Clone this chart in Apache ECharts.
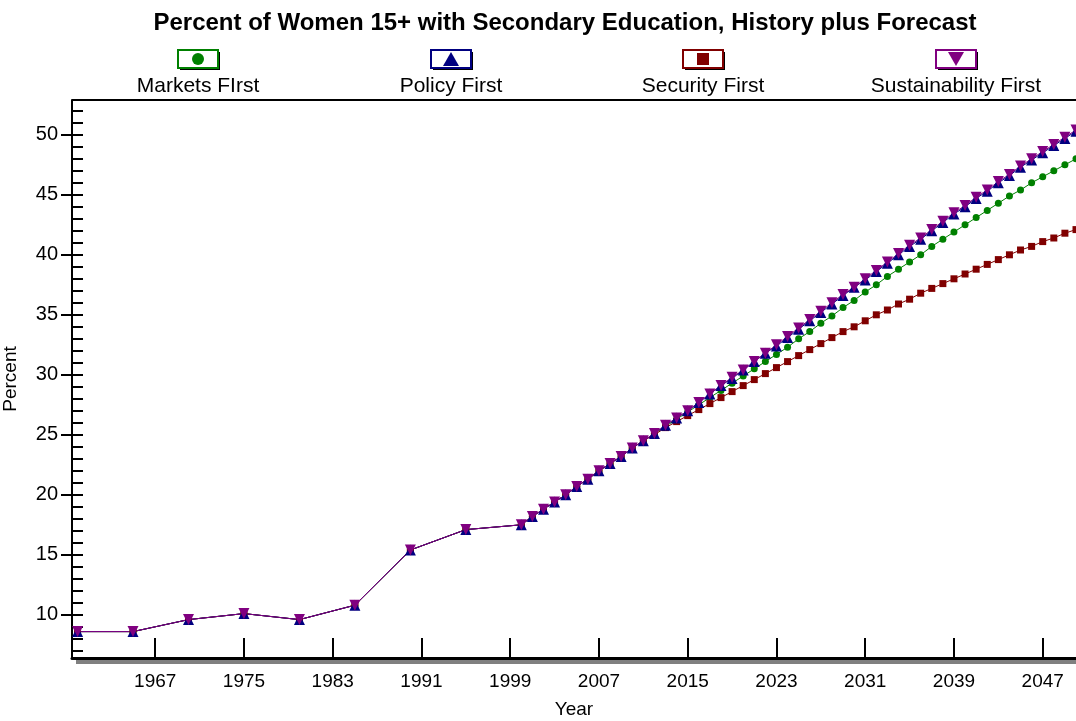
<!DOCTYPE html>
<html><head><meta charset="utf-8">
<script src="https://cdn.jsdelivr.net/npm/echarts@6/dist/echarts.min.js"></script>
<style>html,body{margin:0;background:#fff}#c{width:1076px;height:721px}</style>
</head><body><div id="c"></div>
<script>
// history points then annual forecast
const histYears = [1960, 1965, 1970, 1975, 1980, 1985, 1990, 1995, 2000];
const histVals = [8.6, 8.6, 9.6, 10.1, 9.6, 10.8, 15.4, 17.1, 17.5];
const foreYears = [];
for (let y = 2001; y <= 2050; y++) foreYears.push(y);

const markets = [18.2,18.8,19.4,20.0,20.7,21.3,22.0,22.6,23.2,23.9,24.5,25.1,25.7,26.3,26.9,27.5,28.1,28.7,29.3,29.9,30.5,31.1,31.7,32.3,33.0,33.6,34.3,34.9,35.6,36.2,36.9,37.5,38.2,38.8,39.4,40.0,40.7,41.3,41.9,42.5,43.1,43.7,44.3,44.9,45.4,46.0,46.5,47.0,47.5,48.0];
const policy = [18.2,18.8,19.4,20.0,20.7,21.3,22.0,22.6,23.2,23.9,24.5,25.1,25.8,26.4,27.0,27.7,28.4,29.1,29.7,30.4,31.1,31.8,32.4,33.1,33.8,34.5,35.2,35.9,36.6,37.3,37.9,38.6,39.3,40.0,40.7,41.3,42.0,42.7,43.4,44.0,44.7,45.3,46.0,46.6,47.3,47.9,48.5,49.1,49.7,50.3];
const security = [18.2,18.8,19.4,20.0,20.7,21.3,22.0,22.6,23.2,23.9,24.5,25.0,25.6,26.1,26.6,27.1,27.6,28.1,28.6,29.1,29.6,30.1,30.6,31.1,31.6,32.1,32.6,33.1,33.6,34.0,34.5,35.0,35.4,35.9,36.3,36.8,37.2,37.6,38.0,38.4,38.8,39.2,39.6,40.0,40.4,40.7,41.1,41.4,41.8,42.1];
const sustain = [18.2,18.8,19.4,20.0,20.7,21.3,22.0,22.6,23.2,23.9,24.5,25.1,25.8,26.4,27.0,27.7,28.4,29.1,29.8,30.4,31.1,31.8,32.5,33.2,33.9,34.6,35.3,36.0,36.7,37.3,38.0,38.7,39.4,40.1,40.8,41.4,42.1,42.8,43.5,44.1,44.8,45.4,46.1,46.7,47.4,48.0,48.6,49.2,49.8,50.4];

const xTicks = [1967, 1975, 1983, 1991, 1999, 2007, 2015, 2023, 2031, 2039, 2047];
const yLabels = [10, 15, 20, 25, 30, 35, 40, 45, 50];
const yTicks = [];
for (let v = 7; v <= 52; v++) yTicks.push(v);

const SERIES = [
  { name: "Markets FIrst", color: "#008000", symbol: "circle", size: 7, vals: markets },
  { name: "Security First", color: "#800000", symbol: "rect", size: 7, vals: security },
  { name: "Policy First", color: "#000080", symbol: "triangle", size: 11, vals: policy },
  { name: "Sustainability First", color: "#800080", symbol: "path://M0,0L10,0L5,10Z", size: 11, vals: sustain },
];
const legendX = { "Markets FIrst": 198, "Policy First": 451, "Security First": 703, "Sustainability First": 956 };

const years = histYears.concat(foreYears);
const font = "Liberation Sans, Arial, sans-serif";

const graphic = [
  { type: "rect", shape: { x: 76, y: 659, width: 1000, height: 5 }, style: { fill: "#808080" }, z: 0 },
  { type: "line", shape: { x1: 72, y1: 100, x2: 1076, y2: 100 }, style: { stroke: "#000", lineWidth: 2 } },
];
for (const s of SERIES) {
  const cx = legendX[s.name];
  graphic.push({ type: "rect", shape: { x: cx - 18, y: 52, width: 40, height: 18 }, style: { fill: "#000" } });
  graphic.push({ type: "rect", shape: { x: cx - 20, y: 50, width: 40, height: 18 }, style: { fill: "#fff", stroke: s.color, lineWidth: 2 } });
  let mark;
  if (s.symbol === "circle") mark = { type: "circle", shape: { cx: cx, cy: 59, r: 6 } };
  else if (s.symbol === "rect") mark = { type: "rect", shape: { x: cx - 6, y: 53, width: 12, height: 12 } };
  else if (s.symbol === "triangle") mark = { type: "polygon", shape: { points: [[cx, 52], [cx + 8, 66], [cx - 8, 66]] } };
  else mark = { type: "polygon", shape: { points: [[cx - 8, 52], [cx + 8, 52], [cx, 66]] } };
  mark.style = { fill: s.color };
  graphic.push(mark);
  graphic.push({ type: "text", x: cx, y: 86, style: { text: s.name, font: "21px " + font, fill: "#000", align: "center", verticalAlign: "middle" } });
}

const chart = echarts.init(document.getElementById("c"), null, { renderer: "canvas" });
const yBase = { type: "value", min: 6.4, max: 52.9, splitLine: { show: false } };
chart.setOption({
  animation: false,
  title: { text: "Percent of Women 15+ with Secondary Education, History plus Forecast", left: 560, top: 6, textAlign: "center",
    textStyle: { fontFamily: font, fontSize: 24, fontWeight: "bold", color: "#000" } },
  grid: { left: 72, right: 0, top: 100, bottom: 63, outerBoundsMode: "none" },
  graphic,
  xAxis: {
    type: "value", min: 1959.5, max: 2050, name: "Year", nameLocation: "middle", nameGap: 42,
    nameTextStyle: { fontFamily: font, fontSize: 19, color: "#000" },
    axisLine: { lineStyle: { color: "#000", width: 3 } },
    axisTick: { customValues: xTicks, length: 20, inside: true, lineStyle: { color: "#000", width: 2 } },
    axisLabel: { customValues: xTicks, fontFamily: font, fontSize: 19, color: "#000", margin: 14, formatter: v => String(v) },
    splitLine: { show: false },
  },
  yAxis: [Object.assign({}, yBase, {
    name: "Percent", nameLocation: "middle", nameGap: 52,
    nameTextStyle: { fontFamily: font, fontSize: 19, color: "#000" },
    axisLine: { show: true, lineStyle: { color: "#000", width: 2 } },
    axisTick: { customValues: yTicks, length: 11, inside: true, lineStyle: { color: "#000", width: 2 } },
    axisLabel: { customValues: yLabels, fontFamily: font, fontSize: 20, color: "#000", margin: 14 },
  }), Object.assign({}, yBase, {
    position: "left",
    axisLine: { show: false },
    axisTick: { customValues: yLabels, length: 11, lineStyle: { color: "#000", width: 2 } },
    axisLabel: { show: false },
  })],
  series: SERIES.map(s => ({
    name: s.name, type: "line", symbol: s.symbol, symbolSize: s.size,
    lineStyle: { color: s.color, width: 1 }, itemStyle: { color: s.color },
    data: years.map((y, i) => [y, i < histVals.length ? histVals[i] : s.vals[i - histVals.length]]),
  })),
});
</script></body></html>
